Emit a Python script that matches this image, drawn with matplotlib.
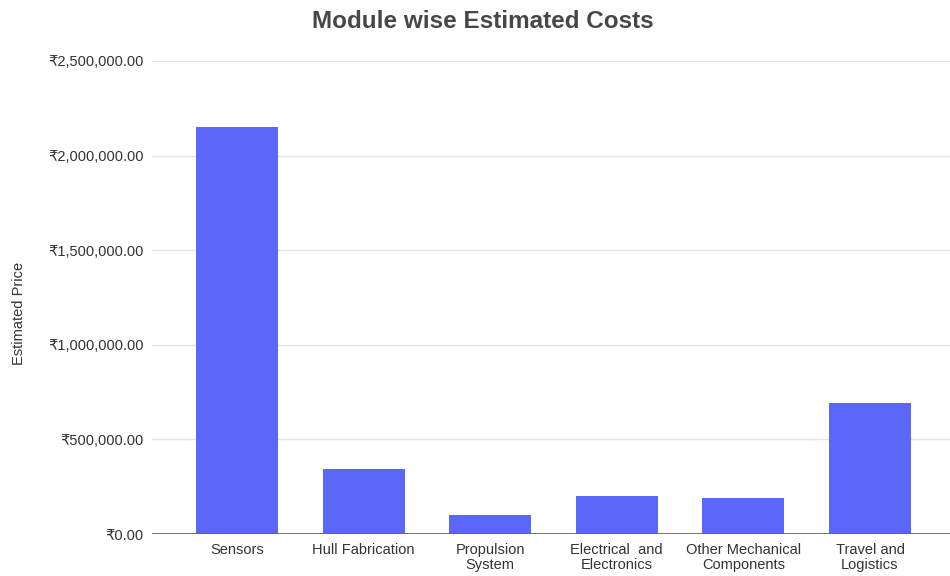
import matplotlib
matplotlib.use("Agg")
import matplotlib.pyplot as plt
from matplotlib.ticker import FuncFormatter

categories = ["Sensors", "Hull Fabrication", "Propulsion\nSystem", "Electrical  and\nElectronics",
              "Other Mechanical\nComponents", "Travel and\nLogistics"]
values = [2150000, 345000, 100000, 200000, 192000, 693000]
yticks = [0, 500000, 1000000, 1500000, 2000000, 2500000]

plt.rcParams['font.family'] = ['Liberation Sans', 'DejaVu Sans']

fig = plt.figure(figsize=(9.5, 5.76), dpi=100)
W, H = 950, 576
ax = fig.add_axes([152 / W, (576 - 534) / H, (950 - 152) / W, (534 - 61) / H])

x = list(range(len(categories)))
ax.bar(x, values, width=0.648, color="#5b67f8", zorder=3)

ax.set_ylim(0, 2500000)
ax.set_xlim((152 - 237) / 126.6, (950 - 237) / 126.6)
ax.set_yticks(yticks)
ax.yaxis.set_major_formatter(FuncFormatter(lambda v, p: "₹{:,.2f}".format(v)))
ax.set_xticks(x)
ax.set_xticklabels(categories, fontsize=10.5, color="#333333", linespacing=1.12)
ax.tick_params(axis='y', labelsize=10.5, labelcolor="#333333", length=0, pad=6)
ax.tick_params(axis='x', length=0, pad=6.5)
ax.grid(axis='y', color="#e4e4e4", linewidth=1, zorder=0)
ax.axhline(0, color="#666666", linewidth=1.3, zorder=4)
for s in ax.spines.values():
    s.set_visible(False)

ax.set_ylabel("Estimated Price", fontsize=10.5, color="#333333")
ax.yaxis.set_label_coords((26 - 152) / 798, (534 - 313) / 473)

fig.text(483 / W, 1 - 21 / H, "Module wise Estimated Costs", ha="center", va="center",
         fontsize=17.5, fontweight="bold", color="#474747")

fig.savefig("out.png", dpi=100)
